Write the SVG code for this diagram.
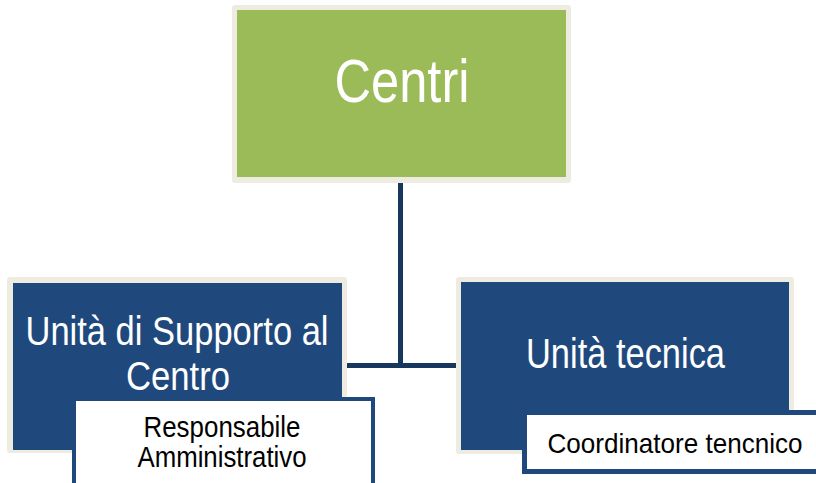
<svg xmlns="http://www.w3.org/2000/svg" width="816" height="483" viewBox="0 0 816 483">
<style>
.frame{fill:#EEECE1}
.blue{fill:#1F497D}
.green{fill:#9BBB59}
.subfill{fill:#FFFFFF}
.subline{fill:none;stroke:#1F497D}
.conn{stroke:#17375E;stroke-width:5;fill:none}
.t{font-family:"Liberation Sans Narrow","Liberation Sans",Arial,sans-serif;text-anchor:middle}
.w{fill:#FFFFFF}
.k{fill:#000000}
</style>
<rect width="816" height="483" fill="#FFFFFF"/>
<g id="connectors">
<path class="conn" d="M400.5,183 V365.5 M347,365.5 H456"/>
</g>
<g id="node-centri">
<rect class="frame" x="232" y="5" width="339" height="178" rx="3"/>
<rect class="green" x="237" y="10" width="329" height="167"/>
<text class="t w" x="402" y="102" font-size="62" textLength="135" lengthAdjust="spacingAndGlyphs">Centri</text>
</g>
<g id="node-supporto">
<rect class="frame" x="7" y="277" width="340" height="176" rx="3"/>
<rect class="blue" x="13" y="283" width="329" height="167"/>
<text class="t w" x="177" y="345" font-size="40" textLength="303" lengthAdjust="spacingAndGlyphs">Unità di Supporto al</text>
<text class="t w" x="178" y="390" font-size="40" textLength="104" lengthAdjust="spacingAndGlyphs">Centro</text>
</g>
<g id="node-responsabile">
<rect class="subfill" x="74" y="399" width="299" height="84"/>
<path class="subline" d="M74,483 V399 H373 V483" stroke-width="4"/>
<text class="t k" x="222" y="437" font-size="30" textLength="157" lengthAdjust="spacingAndGlyphs">Responsabile</text>
<text class="t k" x="222" y="467" font-size="30" textLength="169" lengthAdjust="spacingAndGlyphs">Amministrativo</text>
</g>
<g id="node-tecnica">
<rect class="frame" x="456" y="277" width="338" height="177" rx="3"/>
<rect class="blue" x="461" y="282" width="328" height="168"/>
<text class="t w" x="625.5" y="368" font-size="42" textLength="199" lengthAdjust="spacingAndGlyphs">Unità tecnica</text>
</g>
<g id="node-coordinatore">
<rect class="subfill" x="524.5" y="412.5" width="291.5" height="59"/>
<path class="subline" d="M816,412.5 H524.5 V471.5 H816" stroke-width="5"/>
<text class="t k" x="675" y="453" font-size="28" textLength="255" lengthAdjust="spacingAndGlyphs">Coordinatore tencnico</text>
</g>
</svg>
